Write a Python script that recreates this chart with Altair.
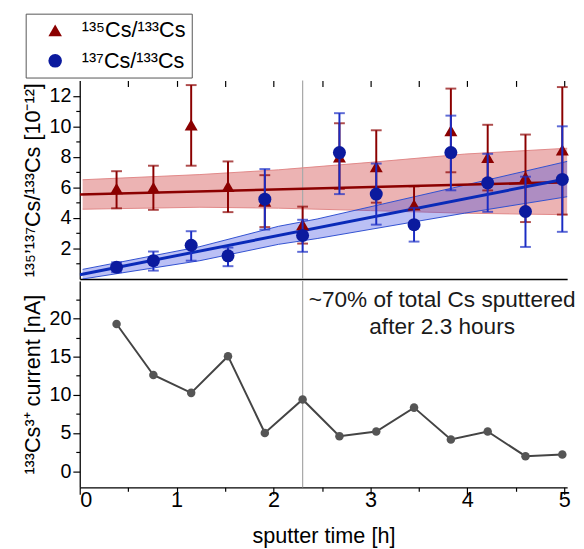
import altair as alt
import pandas as pd

# ---------------- data ----------------
t = [0.38, 0.76, 1.15, 1.53, 1.91, 2.30, 2.68, 3.06, 3.45, 3.83, 4.21, 4.60, 4.98]

r135 = [5.92, 5.99, 10.1, 6.07, 5.10, 3.56, 8.00, 7.36, 4.85, 9.72, 7.96, 6.67, 8.45]
r135_lo = [4.63, 4.53, 7.42, 4.38, 3.40, 2.32, 5.90, 5.00, 3.65, 6.99, 5.80, 3.73, 4.22]
r135_hi = [7.06, 7.42, 12.7, 7.70, 6.80, 4.74, 10.2, 9.74, 6.07, 12.47, 10.1, 9.46, 12.57]

r137 = [0.77, 1.20, 2.21, 1.52, 5.23, 2.85, 8.28, 5.56, 3.56, 8.28, 6.30, 4.42, 6.52]
r137_lo = [0.45, 0.55, 1.20, 0.84, 3.24, 1.78, 5.56, 3.56, 2.45, 5.81, 4.40, 2.10, 3.09]
r137_hi = [1.09, 1.80, 3.13, 2.06, 7.20, 3.88, 10.86, 7.56, 4.66, 10.70, 8.20, 6.70, 10.00]

current = [19.27, 12.6, 10.26, 15.06, 5.02, 9.40, 4.60, 5.20, 8.33, 4.17, 5.20, 1.98, 2.19]

fit_t = [0.0, 5.13]
fit135 = [5.54, 6.36]
fit137 = [0.28, 6.70]

band135_t = [0.03, 1.24, 2.05, 3.00, 3.97, 5.13]
band135_hi = [6.50, 6.84, 7.15, 7.64, 8.18, 8.60]
band135_lo = [4.57, 4.70, 4.64, 4.48, 4.31, 4.20]

band137_t = [0.03, 1.24, 2.05, 2.45, 3.97, 5.13]
band137_hi = [0.63, 2.12, 3.45, 3.93, 6.14, 7.85]
band137_lo = [0.00, 1.20, 2.27, 2.65, 4.31, 5.49]

marker_t = 2.3
note_lines = ["~70% of total Cs sputtered", "after 2.3 hours"]
note_t = [3.74, 3.74]
note_y = [22.45, 18.85]

lab135 = "¹³⁵Cs/¹³³Cs"
lab137 = "¹³⁷Cs/¹³³Cs"

RED = "#8b0000"
BLUE_PT = "#0b1a9e"
BLUE_BAR = "#1a2cc4"
BLUE_LINE = "#0a2ab8"
FONT = "Liberation Sans"

W = 496
H_TOP = 202
H_BOT = 210
XMAX = 5.03

# ---------------- frames ----------------
df135 = pd.DataFrame({"t": t, "v": r135, "lo": r135_lo, "hi": r135_hi, "s": lab135})
df137 = pd.DataFrame({"t": t, "v": r137, "lo": r137_lo, "hi": r137_hi, "s": lab137})
dfcur = pd.DataFrame({"t": t, "c": current})
dffit = pd.DataFrame({"t": fit_t, "a": fit135, "b": fit137})
dfb135 = pd.DataFrame({"t": band135_t, "hi": band135_hi, "lo": band135_lo})
dfb137 = pd.DataFrame({"t": band137_t, "hi": band137_hi, "lo": band137_lo})
dfmark = pd.DataFrame({"t": [marker_t]})
dfnote = pd.DataFrame({"t": note_t, "y": note_y, "txt": note_lines})

xs = alt.Scale(domain=[0, XMAX], nice=False, zero=False)
ys_top = alt.Scale(domain=[0, 13], nice=False, zero=False)
ys_bot = alt.Scale(domain=[-2.1, 24.9], nice=False, zero=False)

color_s = alt.Scale(domain=[lab135, lab137], range=[RED, BLUE_PT])
shape_s = alt.Scale(domain=[lab135, lab137], range=["triangle-up", "circle"])
leg = alt.Legend(title=None, orient="none", legendX=-55, legendY=-68,
                 strokeColor="#555", fillColor="white", padding=6,
                 symbolSize=190, labelFontSize=22, labelFont=FONT,
                 rowPadding=9, symbolOffset=13, labelOffset=16,
                 symbolStrokeWidth=0)

even_tick = {"condition": {"test": "datum.value % 2 == 0", "value": 7}, "value": 4}
five_tick = {"condition": {"test": "datum.value % 5 == 0", "value": 7}, "value": 4}
int_tick = {"condition": {"test": "datum.value % 1 == 0", "value": 7}, "value": 4}

common_axis = dict(domainColor="black", tickColor="black", domainWidth=1.3,
                   tickWidth=1.2, grid=False, labelColor="black",
                   titleColor="black", titleFontWeight="normal", labelFont=FONT,
                   titleFont=FONT)

# ---------------- top panel ----------------
top_axis_x = alt.Axis(orient="top", offset=-6, tickSize=6, domain=False, labels=False,
                      values=[0.5 * i for i in range(1, 11)], title=None,
                      tickColor="black", tickWidth=1.2, grid=False)
bottom_axis_top = alt.Axis(orient="bottom", labels=False, ticks=False, domain=True,
                           domainColor="black", domainWidth=1.6, title=None, grid=False)
y_axis_top = alt.Axis(values=list(range(1, 13)),
                      labelExpr="datum.value % 2 == 0 ? format(datum.value, 'd') : ''",
                      tickSize=even_tick, labelFontSize=20, titleFontSize=22,
                      title="¹³⁵’¹³⁷Cs/¹³³Cs [10⁻¹²]", titlePadding=5, **common_axis)

vrule_top = alt.Chart(dfmark).mark_rule(color="#aaaaaa", strokeWidth=1.3).encode(
    x=alt.X("t:Q", scale=xs, axis=top_axis_x))

band_r = alt.Chart(dfb135).mark_area(color="#d04040", opacity=0.4, clip=True).encode(
    x=alt.X("t:Q", scale=xs, axis=bottom_axis_top),
    y=alt.Y("lo:Q", scale=ys_top, axis=y_axis_top),
    y2="hi:Q")
band_r_hi = alt.Chart(dfb135).mark_line(color="#e08888", strokeWidth=1, clip=True).encode(
    x=alt.X("t:Q", scale=xs, axis=None), y=alt.Y("hi:Q", scale=ys_top, axis=None))
band_r_lo = alt.Chart(dfb135).mark_line(color="#e08888", strokeWidth=1, clip=True).encode(
    x=alt.X("t:Q", scale=xs, axis=None), y=alt.Y("lo:Q", scale=ys_top, axis=None))

band_b = alt.Chart(dfb137).mark_area(color="#3040e0", opacity=0.33, clip=True).encode(
    x=alt.X("t:Q", scale=xs, axis=None),
    y=alt.Y("lo:Q", scale=ys_top, axis=None),
    y2="hi:Q")
band_b_hi = alt.Chart(dfb137).mark_line(color="#3050d0", strokeWidth=1, clip=True).encode(
    x=alt.X("t:Q", scale=xs, axis=None), y=alt.Y("hi:Q", scale=ys_top, axis=None))
band_b_lo = alt.Chart(dfb137).mark_line(color="#3050d0", strokeWidth=1, clip=True).encode(
    x=alt.X("t:Q", scale=xs, axis=None), y=alt.Y("lo:Q", scale=ys_top, axis=None))

fit_r = alt.Chart(dffit).mark_line(color=RED, strokeWidth=2.6, clip=True).encode(
    x=alt.X("t:Q", scale=xs, axis=None), y=alt.Y("a:Q", scale=ys_top, axis=None))
fit_b = alt.Chart(dffit).mark_line(color=BLUE_LINE, strokeWidth=3, clip=True).encode(
    x=alt.X("t:Q", scale=xs, axis=None), y=alt.Y("b:Q", scale=ys_top, axis=None))


def err_layers(df, col):
    bar = alt.Chart(df).mark_rule(color=col, strokeWidth=2).encode(
        x=alt.X("t:Q", scale=xs, axis=None),
        y=alt.Y("lo:Q", scale=ys_top, axis=None), y2="hi:Q")
    cap_lo = alt.Chart(df).mark_tick(color=col, thickness=2, size=11, orient="horizontal").encode(
        x=alt.X("t:Q", scale=xs, axis=None), y=alt.Y("lo:Q", scale=ys_top, axis=None))
    cap_hi = alt.Chart(df).mark_tick(color=col, thickness=2, size=11, orient="horizontal").encode(
        x=alt.X("t:Q", scale=xs, axis=None), y=alt.Y("hi:Q", scale=ys_top, axis=None))
    return [bar, cap_lo, cap_hi]


def pts(df):
    return alt.Chart(df).mark_point(filled=True, size=175, opacity=1).encode(
        x=alt.X("t:Q", scale=xs, axis=None),
        y=alt.Y("v:Q", scale=ys_top, axis=None),
        color=alt.Color("s:N", scale=color_s, legend=leg),
        shape=alt.Shape("s:N", scale=shape_s, legend=leg))


top_layers = [band_r, vrule_top, band_r_hi, band_r_lo, band_b, band_b_hi, band_b_lo,
              fit_r, fit_b] + err_layers(df135, RED) + [pts(df135)] + \
             err_layers(df137, BLUE_BAR) + [pts(df137)]
top = alt.layer(*top_layers).resolve_axis(x="independent", y="independent").properties(
    width=W, height=H_TOP)

# ---------------- bottom panel ----------------
x_axis_bot = alt.Axis(values=[0.5 * i for i in range(0, 11)],
                      labelExpr="datum.value % 1 == 0 ? format(datum.value, 'd') : ''",
                      tickSize=int_tick, labelFontSize=22, titleFontSize=22,
                      title="sputter time [h]", titlePadding=15, labelPadding=-4,
                      **common_axis)
y_axis_bot = alt.Axis(values=[2.5 * i for i in range(0, 10)],
                      labelExpr="datum.value % 5 == 0 ? format(datum.value, 'd') : ''",
                      tickSize=five_tick, labelFontSize=20, titleFontSize=22,
                      title="¹³³Cs³⁺ current [nA]", titlePadding=5, **common_axis)

vrule_bot = alt.Chart(dfmark).mark_rule(color="#aaaaaa", strokeWidth=1.3).encode(
    x=alt.X("t:Q", scale=xs, axis=None))
cur_line = alt.Chart(dfcur).mark_line(color="#444444", strokeWidth=2).encode(
    x=alt.X("t:Q", scale=xs, axis=x_axis_bot),
    y=alt.Y("c:Q", scale=ys_bot, axis=y_axis_bot))
cur_pts = alt.Chart(dfcur).mark_circle(color="#555555", size=75, opacity=1).encode(
    x=alt.X("t:Q", scale=xs, axis=None),
    y=alt.Y("c:Q", scale=ys_bot, axis=None))
note = alt.Chart(dfnote).mark_text(fontSize=23, font=FONT, color="#1a1a1a").encode(
    x=alt.X("t:Q", scale=xs, axis=None),
    y=alt.Y("y:Q", scale=ys_bot, axis=None),
    text="txt:N")

bottom = alt.layer(cur_line, vrule_bot, cur_pts, note).resolve_axis(
    x="independent", y="independent").properties(width=W, height=H_BOT)

chart = alt.vconcat(top, bottom, spacing=0).properties(
    padding={"left": 13, "top": 0, "right": 0, "bottom": 0}
).configure(font=FONT).configure_view(stroke=None)

chart.save("out.html", embed_options={"renderer": "svg", "actions": False})
